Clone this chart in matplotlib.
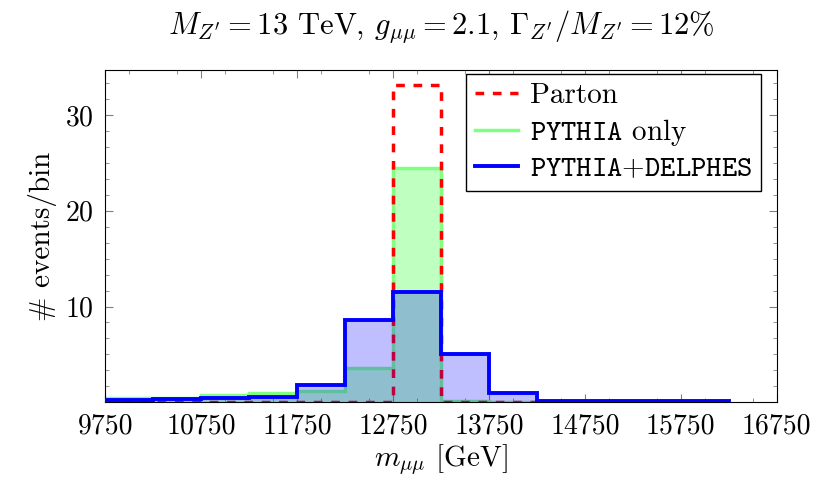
import numpy as np
import matplotlib.pyplot as plt
from matplotlib.ticker import MultipleLocator, FixedLocator

plt.rcParams['font.family'] = 'cmr10'
plt.rcParams['mathtext.fontset'] = 'cm'
plt.rcParams['axes.formatter.use_mathtext'] = True

# bin edges (GeV), 500 GeV wide
edges = np.arange(9750, 16251, 500)
# events/bin
parton = [0.0, 0.0, 0.05, 0.05, 0.05, 0.05, 33.1, 0.05, 0.0, 0.0, 0.0, 0.0, 0.0]
pythia = [0.4, 0.4, 0.8, 0.97, 1.15, 3.55, 24.5, 0.1, 0.05, 0.0, 0.0, 0.0, 0.0]
delphes = [0.2, 0.35, 0.4, 0.55, 1.8, 8.6, 11.5, 5.0, 0.95, 0.15, 0.1, 0.1, 0.08]

xticks = np.arange(9750, 16751, 1000)

fig = plt.figure(figsize=(8.15, 4.84), dpi=100)
ax = fig.add_axes([0.129, 0.169, 0.824, 0.686])

ax.stairs(pythia, edges, fill=True, color='#00ff00', alpha=0.25, lw=0, zorder=2)
ax.stairs(pythia, edges, color='#80ff80', lw=2.5, label=r'$\mathtt{PYTHIA}$ only', zorder=2)
ax.stairs(parton, edges, color='red', ls=(0, (2.5, 2.5)), lw=2.5, label='Parton', zorder=3)
ax.stairs(delphes, edges, fill=True, color='#0000ff', alpha=0.25, lw=0, zorder=4)
ax.stairs(delphes, edges, color='#0000ff', lw=2.8, label=r'$\mathtt{PYTHIA}$+$\mathtt{DELPHES}$', zorder=5)

ax.set_xlim(9750, 16750)
ax.set_ylim(0, 34.7)
ax.set_xticks(xticks)
ax.set_xticklabels([str(v) for v in xticks])
ax.xaxis.set_minor_locator(MultipleLocator(500))
ax.set_yticks([10, 20, 30])
ax.yaxis.set_minor_locator(FixedLocator(np.arange(0, 34.7, 10 / 6)))
ax.tick_params(which='both', direction='in', top=True, right=True, labelsize=20, color='#808080')
ax.tick_params(which='major', length=6, pad=8)
ax.tick_params(which='minor', length=3)

ax.set_xlabel(r'$m_{\mu\mu}$ [GeV]', fontsize=21, labelpad=2)
ax.set_ylabel('# events/bin', fontsize=21, labelpad=6)
ax.set_title(r"$M_{Z'}=13$ TeV, $g_{\mu\mu}=2.1$, $\Gamma_{Z'}/M_{Z'}=12\%$", fontsize=22, pad=26)

h, l = ax.get_legend_handles_labels()
order = [1, 0, 2]
leg = ax.legend([h[i] for i in order], [l[i] for i in order], loc='upper right',
                bbox_to_anchor=(761 / 815, 1 - 74 / 484), bbox_transform=fig.transFigure,
                fontsize=21, fancybox=False, edgecolor='black', framealpha=1,
                handlelength=1.5, handletextpad=0.4, borderaxespad=0, labelspacing=0.26,
                borderpad=0.3)
leg.get_frame().set_linewidth(1.0)

plt.savefig('out.png')
